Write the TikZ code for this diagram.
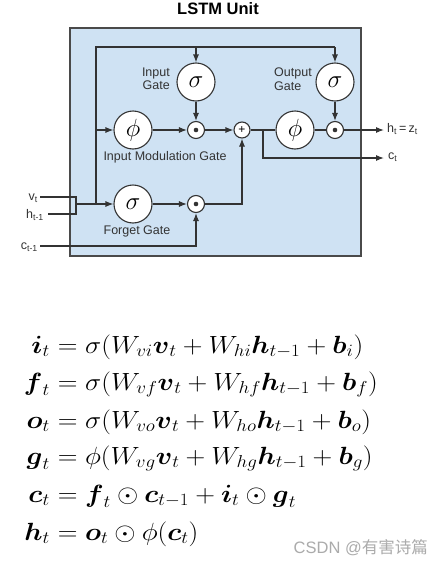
\documentclass[tikz,border=0pt]{standalone}
\usepackage{amsmath}
\usepackage{graphicx}
\usepackage{fontspec}
\setmainfont{Liberation Sans}
\newfontfamily\cjkfont{Noto Sans CJK SC}
\usetikzlibrary{arrows.meta}
\definecolor{boxfill}{HTML}{CFE2F3}
\definecolor{boxline}{HTML}{4A4A4A}
\definecolor{ln}{HTML}{333333}
\definecolor{wm}{HTML}{ABABAB}
\tikzset{
  conn/.style={draw=ln, line width=1.1pt},
  arr/.style={conn, -{Latex[length=8pt,width=6pt]}},
  gate/.style={circle, draw=ln, line width=1.1pt, fill=white, minimum size=38pt, inner sep=0pt, font=\fontsize{24}{24}\selectfont},
  op/.style={circle, draw=ln, line width=1.1pt, fill=white, minimum size=17pt, inner sep=0pt},
  lbl/.style={font=\fontsize{12.5}{13.5}\selectfont, text=ln, inner sep=0pt},
  eqn/.style={inner sep=0pt, font=\fontsize{25}{30}\selectfont},
}
\newcommand{\odotmark}{\tikz\fill[ln] (0,0) circle (2.3pt);}
\newcommand{\eqs}[1]{\scalebox{1.10}[1]{#1}}
\begin{document}
\begin{tikzpicture}[x=1pt,y=-1pt]
\useasboundingbox[fill=white] (0,0) rectangle (442,565);
% title
\node[font=\fontsize{16.5}{18}\selectfont\bfseries, inner sep=0pt] (title) at (218,9) {LSTM Unit};
% box
\draw[draw=boxline, fill=boxfill, line width=1.4pt] (70,28) rectangle (361,256);
% nodes
\node[gate] (ig) at (196,82) {$\sigma$};
\node[gate] (og) at (335,82) {$\sigma$};
\node[gate] (phi) at (133,130) {$\phi$};
\node[op] (mi) at (196,130) {\odotmark};
\node[op, minimum size=16pt] (plus) at (242,130) {\fontsize{12}{12}\selectfont +};
\node[gate] (phi2) at (295,130) {$\phi$};
\node[op] (mo) at (335,130) {\odotmark};
\node[gate] (fg) at (133,204) {$\sigma$};
\node[op] (mf) at (196,204) {\odotmark};
% labels
\node[lbl, align=right, anchor=east] (igl) at (170,79) {Input\\Gate};
\node[lbl, align=left, anchor=west] (ogl) at (274,79) {Output\\Gate};
\node[lbl] (iml) at (165,157) {Input Modulation Gate};
\node[lbl] (fgl) at (137,231) {Forget Gate};
\node[lbl, anchor=west] (hz) at (387,129) {h\textsubscript{t}\,=\,z\textsubscript{t}};
\node[lbl, anchor=west] (ct) at (388,157) {c\textsubscript{t}};
\node[lbl, anchor=east] (vt) at (38,198) {v\textsubscript{t}};
\node[lbl, anchor=east] (ht) at (44,215) {h\textsubscript{t-1}};
\node[lbl, anchor=east] (ctm) at (38,247) {c\textsubscript{t-1}};
% coordinates
\coordinate (tl) at (96,47);
\coordinate (tr) at (335,47);
\coordinate (ti) at (196,47);
\coordinate (lm) at (96,130);
\coordinate (lb) at (96,204);
\coordinate (br) at (76,204);
\coordinate (brt) at (76,197);
\coordinate (brb) at (76,214);
\coordinate (vs) at (40,197);
\coordinate (hs) at (48,214);
\coordinate (cs) at (40,246);
\coordinate (cc) at (196,246);
\coordinate (fp) at (242,204);
\coordinate (sp) at (263,130);
\coordinate (sd) at (263,158);
\coordinate (ce) at (384,158);
\coordinate (he) at (384,130);
% connectors
\draw[conn] (lb) -- (tl) -- (tr);
\draw[arr] (ti) -- (ig);
\draw[arr] (tr) -- (og);
\draw[arr] (ig) -- (mi);
\draw[arr] (og) -- (mo);
\draw[arr] (lm) -- (phi);
\draw[arr] (phi) -- (mi);
\draw[arr] (mi) -- (plus);
\draw[conn] (plus) -- (phi2);
\draw[conn] (phi2) -- (mo);
\draw[arr] (mo) -- (he);
\draw[arr] (sp) -- (sd) -- (ce);
\draw[conn] (vs) -- (brt) -- (brb) -- (hs);
\draw[arr] (br) -- (fg);
\draw[arr] (fg) -- (mf);
\draw[arr] (mf) -- (fp) -- (plus);
\draw[arr] (cs) -- (cc) -- (mf);
% equations
\node[eqn, anchor=base east] (l1) at (50,353) {\eqs{$\boldsymbol{i}_t$}};
\node[eqn, anchor=base west] (r1) at (50,353) {\eqs{${}=\sigma(W_{vi}\boldsymbol{v}_t+W_{hi}\boldsymbol{h}_{t-1}+\boldsymbol{b}_i)$}};
\node[eqn, anchor=base east] (l2) at (50,390) {\eqs{$\boldsymbol{f}_t$}};
\node[eqn, anchor=base west] (r2) at (50,390) {\eqs{${}=\sigma(W_{vf}\boldsymbol{v}_t+W_{hf}\boldsymbol{h}_{t-1}+\boldsymbol{b}_f)$}};
\node[eqn, anchor=base east] (l3) at (50,428) {\eqs{$\boldsymbol{o}_t$}};
\node[eqn, anchor=base west] (r3) at (50,428) {\eqs{${}=\sigma(W_{vo}\boldsymbol{v}_t+W_{ho}\boldsymbol{h}_{t-1}+\boldsymbol{b}_o)$}};
\node[eqn, anchor=base east] (l4) at (50,464) {\eqs{$\boldsymbol{g}_t$}};
\node[eqn, anchor=base west] (r4) at (50,464) {\eqs{${}=\phi(W_{vg}\boldsymbol{v}_t+W_{hg}\boldsymbol{h}_{t-1}+\boldsymbol{b}_g)$}};
\node[eqn, anchor=base east] (l5) at (50,502) {\eqs{$\boldsymbol{c}_t$}};
\node[eqn, anchor=base west] (r5) at (50,502) {\eqs{${}=\boldsymbol{f}_t\odot\boldsymbol{c}_{t-1}+\boldsymbol{i}_t\odot\boldsymbol{g}_t$}};
\node[eqn, anchor=base east] (l6) at (50,540) {\eqs{$\boldsymbol{h}_t$}};
\node[eqn, anchor=base west] (r6) at (50,540) {\eqs{${}=\boldsymbol{o}_t\odot\phi(\boldsymbol{c}_t)$}};
% watermark
\node[anchor=east, text=wm, inner sep=0pt, font=\fontsize{16.5}{18}\selectfont] (wmk) at (428,548) {CSDN @{\cjkfont 有害诗篇}};
\end{tikzpicture}
\end{document}
